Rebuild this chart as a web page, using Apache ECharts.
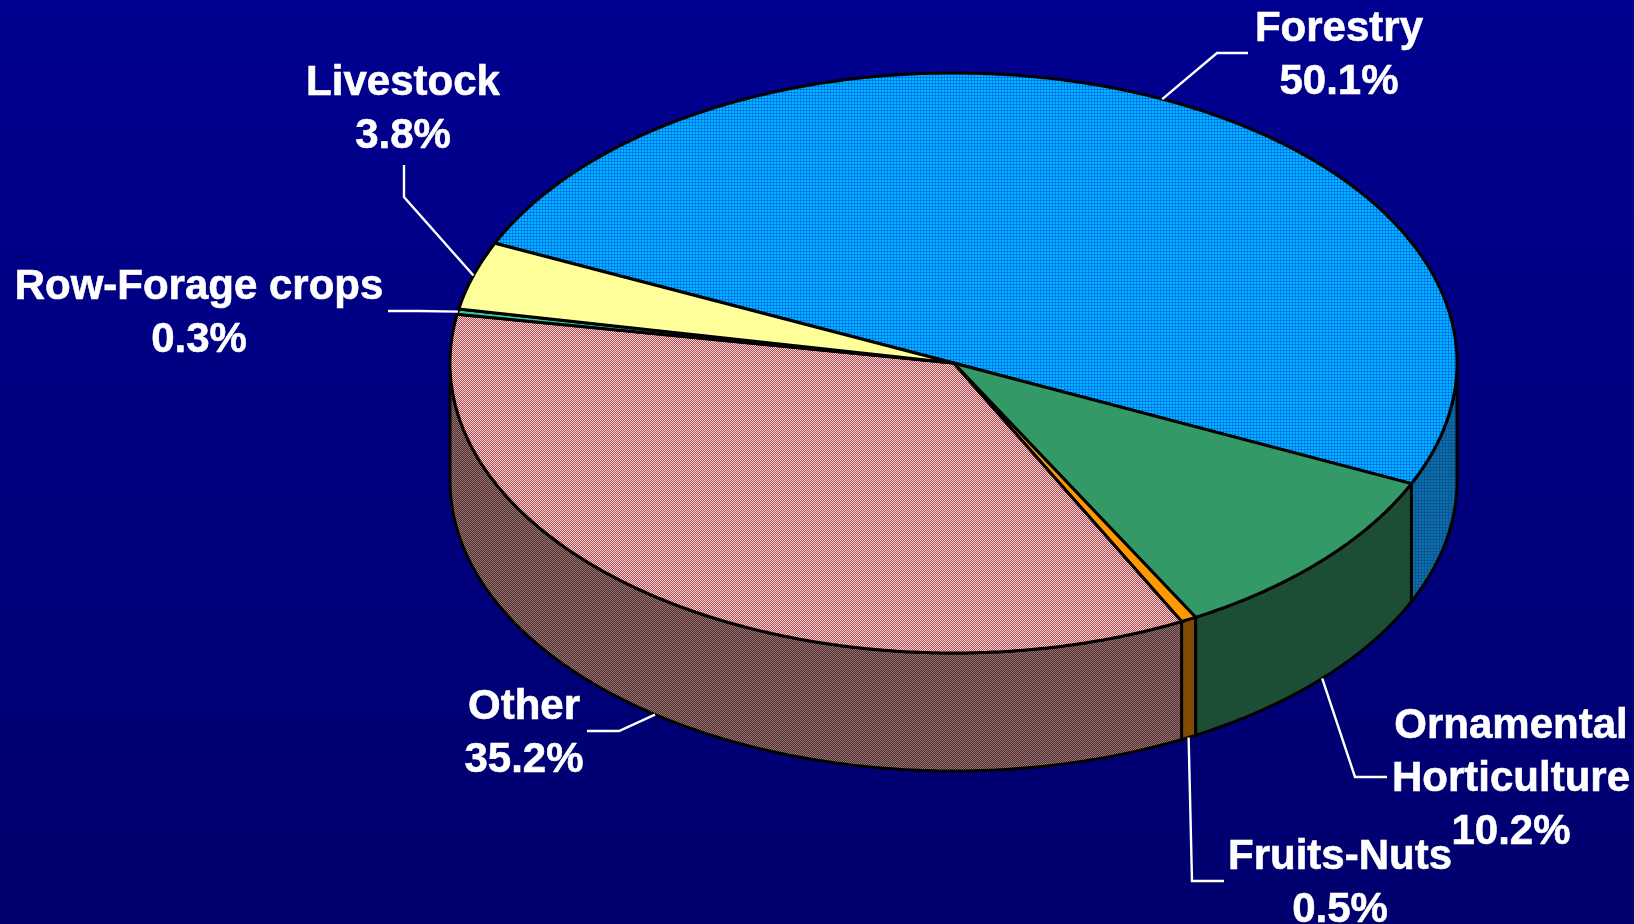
<!DOCTYPE html>
<html>
<head>
<meta charset="utf-8">
<style>
  html, body { margin: 0; padding: 0; background: #000080; }
  #chart { width: 1634px; height: 924px; }
</style>
</head>
<body>
<div id="chart"></div>
<script src="https://cdn.jsdelivr.net/npm/echarts@6/dist/echarts.min.js"></script>
<script>
// values, clockwise from Forestry
const sliceNames = ['Forestry', 'Ornamental\nHorticulture', 'Fruits-Nuts', 'Other', 'Row-Forage crops', 'Livestock'];
const sliceValues = [50.1, 10.2, 0.5, 35.2, 0.3, 3.8];

// pie geometry
const cx = 953.5, cy = 363, rx = 503.5, ry = 290, depth = 118;
const startAngle = 204.4; // degrees, clockwise from 3 o'clock

// small tiled textures for the dithered fills
function tile(size, colors) {
  const c = document.createElement('canvas');
  c.width = c.height = size;
  const g = c.getContext('2d');
  for (let y = 0; y < size; y++) {
    for (let x = 0; x < size; x++) {
      g.fillStyle = colors(x, y);
      g.fillRect(x, y, 1, 1);
    }
  }
  return { image: c, repeat: 'repeat' };
}
const plaid = (light, mid, dark) => (x, y) => {
  if (x % 3 === 2 && y % 3 === 2) return dark;
  if (x % 3 === 2 || y % 3 === 2) return mid;
  return light;
};
const checker = (a, b) => (x, y) => ((x + y) % 2 ? a : b);

const topFills = [
  tile(3, plaid('#00b4ff', '#0084f0', '#0060e0')),
  '#339966',
  '#ff9900',
  tile(2, checker('#c04450', '#ecdcd8')),
  '#33cc99',
  '#ffff99'
];
const wallFills = [
  tile(3, plaid('#0a6ea8', '#0c5a96', '#0a4a90')),
  '#1c4e36',
  '#804d00',
  tile(2, checker('#602628', '#857c7a')),
  '#1a6650',
  '#808050'
];

// where each label and its leader line sit
const labelBoxes = [
  { x: 1339, y: 55.5, bend: [1217, 53], end: [1248, 53] },
  { x: 1511, y: 779.5, bend: [1355, 777], end: [1387, 777], wall: true },
  { x: 1340, y: 884, bend: [1192, 881], end: [1224, 881], wall: true },
  { x: 524, y: 734, bend: [619, 731], end: [587, 731], wall: true },
  { x: 199, y: 314, bend: [419, 311], end: [388, 311] },
  { x: 403, y: 109.5, bend: [404, 197], end: [404, 165] }
];

const total = sliceValues.reduce((a, b) => a + b, 0);
let cumulative = 0;
const sliceAngles = sliceValues.map(v => {
  const from = echarts.number.linearMap(cumulative, [0, total], [startAngle, startAngle + 360]);
  cumulative += v;
  const to = echarts.number.linearMap(cumulative, [0, total], [startAngle, startAngle + 360]);
  return [from, to];
});

const rimPoint = (deg, drop) => {
  const t = deg * Math.PI / 180;
  return [cx + rx * Math.cos(t), cy + ry * Math.sin(t) + (drop || 0)];
};
const arcPoints = (from, to, drop) => {
  const pts = [];
  const n = Math.max(2, Math.ceil((to - from) / 0.5));
  for (let i = 0; i <= n; i++) pts.push(rimPoint(from + (to - from) * i / n, drop));
  return pts;
};

function renderSlice(params, api) {
  const i = api.value(0);
  const [from, to] = sliceAngles[i];
  const box = labelBoxes[i];
  const children = [];

  // the wall only shows on the front half of the rim
  [0, 360].forEach(shift => {
    const a = Math.max(from, shift), b = Math.min(to, shift + 180);
    if (b <= a) return;
    children.push({
      type: 'polygon',
      z2: 1,
      shape: { points: arcPoints(a, b, 0).concat(arcPoints(a, b, depth).reverse()) },
      style: { fill: wallFills[i], stroke: '#000', lineWidth: 3, lineJoin: 'round' }
    });
  });

  children.push({
    type: 'polygon',
    z2: 2,
    shape: { points: [[cx, cy]].concat(arcPoints(from, to, 0)) },
    style: { fill: topFills[i], stroke: '#000', lineWidth: 3, lineJoin: 'round' }
  });

  const anchor = rimPoint((from + to) / 2, box.wall ? depth : 0);
  children.push({
    type: 'polyline',
    z2: 3,
    shape: { points: [anchor, box.bend, box.end] },
    style: { fill: null, stroke: '#fff', lineWidth: 2.4 }
  });
  children.push({
    type: 'text',
    z2: 4,
    x: box.x,
    y: box.y,
    style: {
      text: sliceNames[i] + '\n' + api.value(1).toFixed(1) + '%',
      fill: '#fff',
      stroke: '#fff',
      lineWidth: 0.6,
      font: 'bold 42px "Liberation Sans", Arial, sans-serif',
      lineHeight: 53,
      textAlign: 'center',
      textVerticalAlign: 'middle'
    }
  });
  return { type: 'group', children: children };
}

const chart = echarts.init(document.getElementById('chart'));
chart.setOption({
  animation: false,
  backgroundColor: {
    type: 'linear', x: 0, y: 0, x2: 0, y2: 1,
    colorStops: [{ offset: 0, color: '#000090' }, { offset: 1, color: '#00006e' }]
  },
  series: [{
    type: 'custom',
    coordinateSystem: 'none',
    silent: true,
    data: sliceValues.map((v, i) => [i, v]),
    renderItem: renderSlice
  }]
});
</script>
</body>
</html>
